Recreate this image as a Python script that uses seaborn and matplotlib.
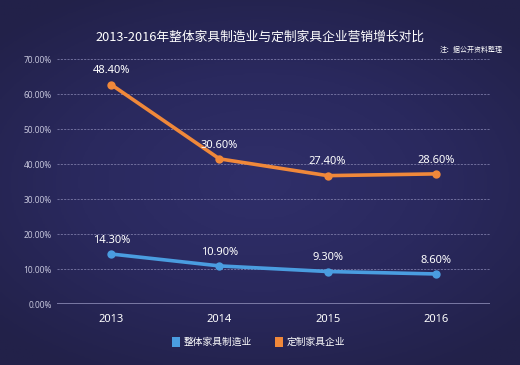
import numpy as np
import pandas as pd
import matplotlib
matplotlib.use("Agg")
import matplotlib.pyplot as plt
import seaborn as sns
from matplotlib.patches import Rectangle
from matplotlib.colors import LinearSegmentedColormap

years = ["2013", "2014", "2015", "2016"]
whole_furniture = [14.3, 10.9, 9.3, 8.6]      # 整体家具制造业
custom_furniture = [48.4, 30.6, 27.4, 28.6]   # 定制家具企业
series_names = ["整体家具制造业", "定制家具企业"]
y_ticks = [0, 10, 20, 30, 40, 50, 60, 70]

sns.set_theme(style="white")
plt.rcParams['font.family'] = ['Noto Sans CJK SC', 'DejaVu Sans']
plt.rcParams['axes.unicode_minus'] = False

BG = "#2a2a5e"
BLUE = "#4a9de0"
ORANGE = "#f0883a"

fig = plt.figure(figsize=(5.2, 3.65), dpi=100)
fig.patch.set_facecolor(BG)

# subtle radial-ish gradient background
bgax = fig.add_axes([0, 0, 1, 1], zorder=-10)
yy, xx = np.mgrid[0:1:200j, 0:1:300j]
r = np.sqrt(((xx - 0.5) / 0.7) ** 2 + ((yy - 0.5) / 0.6) ** 2)
cmap = LinearSegmentedColormap.from_list("bg", ["#302f6a", "#2a295e", "#222149"])
bgax.imshow(np.clip(r, 0, 1), aspect="auto", cmap=cmap, extent=[0, 1, 1, 0], vmin=0, vmax=1)
bgax.set_axis_off()

ax = fig.add_axes([0.11, 0.167, 0.832, 0.671])
ax.set_facecolor("none")

x = np.arange(len(years))
stack_top = [a + b for a, b in zip(whole_furniture, custom_furniture)]
df = pd.DataFrame({
    "x": np.concatenate([x, x]),
    "y": whole_furniture + stack_top,
    "series": [series_names[0]] * 4 + [series_names[1]] * 4,
})

sns.lineplot(data=df, x="x", y="y", hue="series", palette=[BLUE, ORANGE],
             marker="o", markersize=6, markeredgewidth=0, linewidth=2.6,
             ax=ax, legend=False, zorder=3)

for xi, yv, lab in zip(x, whole_furniture, whole_furniture):
    ax.annotate(f"{lab:.2f}%", (xi, yv), xytext=(0, 6), textcoords="offset points",
                ha="center", va="bottom", color="white", fontsize=8,
                family=['Noto Sans', 'DejaVu Sans'])
for xi, yv, lab in zip(x, stack_top, custom_furniture):
    ax.annotate(f"{lab:.2f}%", (xi, yv), xytext=(0, 6), textcoords="offset points",
                ha="center", va="bottom", color="white", fontsize=8,
                family=['Noto Sans', 'DejaVu Sans'])

ax.set_xlim(-0.5, 3.5)
ax.set_ylim(0, 70)
ax.set_yticks(y_ticks)
ax.set_yticklabels([f"{t:.2f}%" for t in y_ticks], color="#c4c4da", fontsize=6,
                   family=['Noto Sans', 'DejaVu Sans'])
ax.set_xticks(x)
ax.set_xticklabels(years, color="white", fontsize=8,
                   family=['Noto Sans', 'DejaVu Sans'])
ax.tick_params(axis="both", length=0)
ax.tick_params(axis="y", pad=4)
ax.tick_params(axis="x", pad=7)
ax.set_xlabel("")
ax.set_ylabel("")
for s in ax.spines.values():
    s.set_visible(False)
for t in y_ticks[1:]:
    ax.axhline(t, color="#7c7ba8", linewidth=0.6, linestyle=(0, (2.5, 1.5)), zorder=1)
ax.axhline(0, color="#9190ba", linewidth=1.1, zorder=1)

fig.text(0.5, 0.898, "2013-2016年整体家具制造业与定制家具企业营销增长对比",
         ha="center", va="center", color="white", fontsize=9.2, fontweight="medium")
fig.text(0.967, 0.862, "注：据公开资料整理", ha="right", va="center",
         color="white", fontsize=5)

# legend
leg_y = 0.063
for lx, col, name in [(0.33, BLUE, series_names[0]), (0.528, ORANGE, series_names[1])]:
    fig.patches.append(Rectangle((lx, leg_y - 0.013), 0.016, 0.026, transform=fig.transFigure,
                                 facecolor=col, edgecolor="none"))
    fig.text(lx + 0.024, leg_y, name, ha="left", va="center", color="white", fontsize=7)

fig.savefig("out.png", dpi=100, facecolor=fig.get_facecolor())
